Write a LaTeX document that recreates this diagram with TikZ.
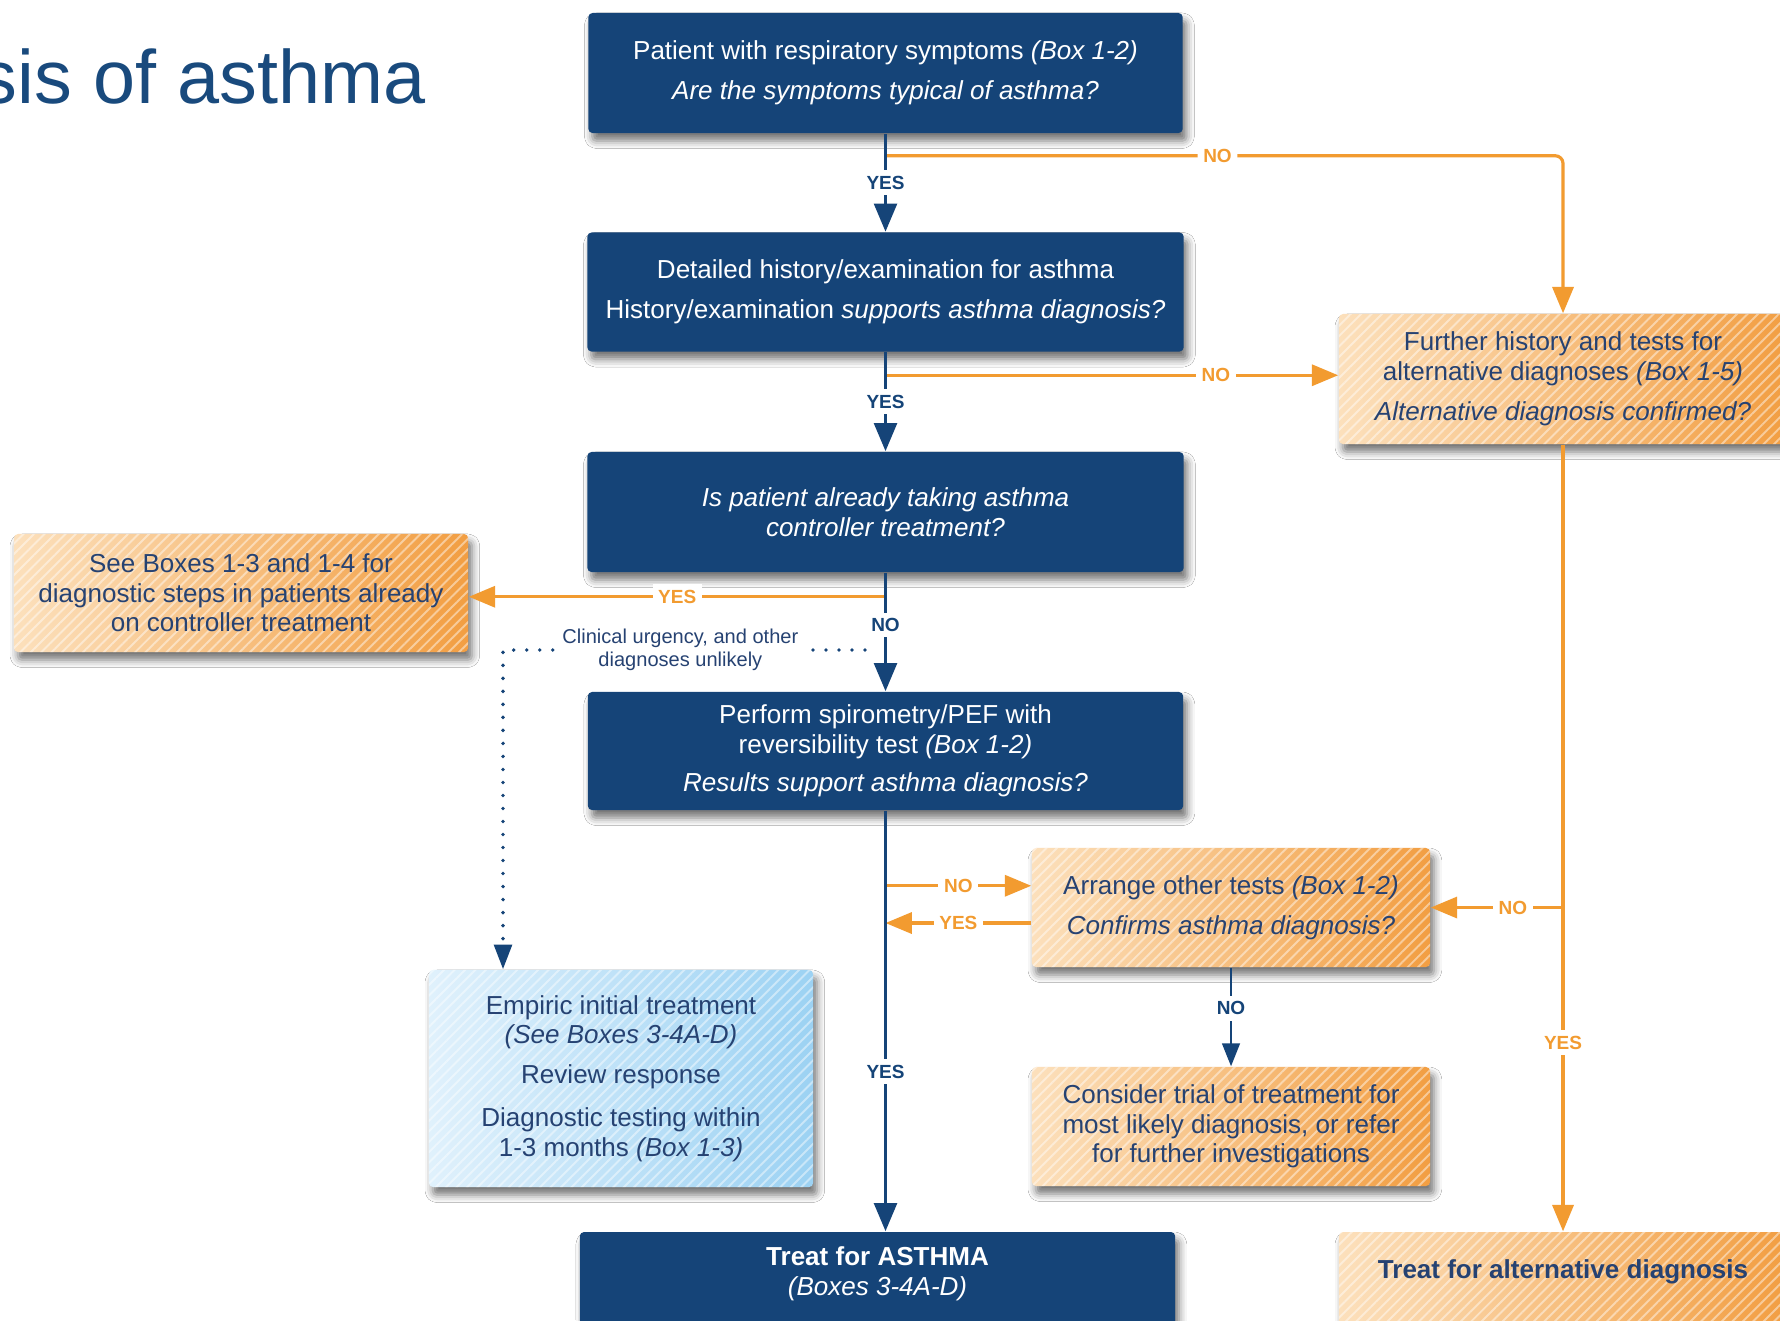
\documentclass[tikz,border=0pt]{standalone}
\usepackage{fontspec}
\setmainfont{Liberation Sans}
\usepackage{xcolor}
\usepackage{tikz}
\usetikzlibrary{arrows.meta,positioning,calc,shadows.blur,patterns.meta}

\definecolor{cNavy}{RGB}{21,68,120}
\definecolor{cNavyText}{RGB}{38,66,114}
\definecolor{cOrange}{RGB}{242,155,48}
\definecolor{cOrgLight}{RGB}{252,224,188}
\definecolor{cOrgDark}{RGB}{242,158,66}
\definecolor{cBluLight}{RGB}{224,241,252}
\definecolor{cBluDark}{RGB}{156,210,243}
\definecolor{cTitle}{RGB}{25,74,125}

\begin{document}
\begin{tikzpicture}[x=0.01cm,y=-0.01cm,
  boxtext/.style={font=\fontsize{7.4}{8.4}\selectfont,align=center,inner sep=0pt},
  boxshadow/.style={blur shadow={shadow xshift=1.1pt,shadow yshift=-2.2pt,shadow blur radius=2.2pt,shadow opacity=55}},
  navynode/.style={boxtext,rounded corners=1.2pt,fill=cNavy,text=white,boxshadow},
  hatchnode/.style={boxtext,rounded corners=1.2pt,text=cNavyText,boxshadow,
    postaction={pattern={Lines[angle=45,distance=2.1pt,line width=0.55pt]},pattern color=white,opacity=0.45}},
  orgnode/.style={hatchnode,left color=cOrgLight,right color=cOrgDark},
  blunode/.style={hatchnode,left color=cBluLight,right color=cBluDark},
  navyflow/.style={draw=cNavy,line width=1.1pt,-{Triangle[length=8pt,width=6.4pt]}},
  navythin/.style={draw=cNavy,line width=0.65pt,-{Triangle[length=6.5pt,width=5pt]}},
  orgflow/.style={draw=cOrange,line width=0.9pt,-{Triangle[length=7.5pt,width=6pt]}},
  dotflow/.style={draw=cNavy,line width=1.1pt,line cap=round,dash pattern=on 0pt off 3.7pt,
    -{Triangle[length=7pt,width=5pt]}},
  flowlbl/.style={font=\bfseries\fontsize{5.4}{6}\selectfont,fill=white,inner sep=1.6pt},
  navylbl/.style={flowlbl,text=cNavy},
  orglbl/.style={flowlbl,text=cOrange},
  urgtext/.style={font=\fontsize{5.7}{6.6}\selectfont,align=center,text=cNavyText,fill=white,inner sep=1.8pt}]
\path[use as bounding box,fill=white] (0,0) rectangle (1780,1320);

% title, cut at the left edge
\node[anchor=base east,font=\fontsize{21.5}{24}\selectfont,text=cTitle,inner sep=0pt] (title) at (426,103) {sis of asthma};

% boxes
\node[navynode,minimum width=5.94cm,minimum height=1.2cm] (sympt) at (885.5,73)
  {Patient with respiratory symptoms \textit{(Box 1-2)}\\[3pt]\textit{Are the symptoms typical of asthma?}};
\node[navynode,minimum width=5.96cm,minimum height=1.19cm] (hist) at (885.5,292)
  {Detailed history/examination for asthma\\[3pt]History/examination \textit{supports asthma diagnosis?}};
\node[orgnode,minimum width=4.48cm,minimum height=1.3cm] (alt) at (1563,379)
  {Further history and tests for\\alternative diagnoses \textit{(Box 1-5)}\\[3pt]\textit{Alternative diagnosis confirmed?}};
\node[navynode,minimum width=5.96cm,minimum height=1.2cm] (ctrl) at (885.5,512)
  {\textit{Is patient already taking asthma}\\\textit{controller treatment?}};
\node[orgnode,minimum width=4.54cm,minimum height=1.18cm] (see) at (241,593)
  {See Boxes 1-3 and 1-4 for\\diagnostic steps in patients already\\on controller treatment};
\node[navynode,minimum width=5.95cm,minimum height=1.18cm] (spiro) at (885.5,751)
  {Perform spirometry/PEF with\\reversibility test \textit{(Box 1-2)}\\[2.6pt]\textit{Results support asthma diagnosis?}};
\node[orgnode,minimum width=3.98cm,minimum height=1.19cm] (other) at (1231,907.5)
  {Arrange other tests \textit{(Box 1-2)}\\[3pt]\textit{Confirms asthma diagnosis?}};
\node[blunode,minimum width=3.84cm,minimum height=2.17cm] (empiric) at (621,1078.5)
  {Empiric initial treatment\\\textit{(See Boxes 3-4A-D)}\\[3pt]Review response\\[3.8pt]Diagnostic testing within\\1-3 months \textit{(Box 1-3)}};
\node[orgnode,minimum width=3.98cm,minimum height=1.19cm] (trial) at (1231,1126.5)
  {Consider trial of treatment for\\most likely diagnosis, or refer\\for further investigations};
\node[navynode,minimum width=5.95cm,minimum height=1.2cm,text depth=12pt] (asthma) at (877.5,1292)
  {\textbf{Treat for ASTHMA}\\\textit{(Boxes 3-4A-D)}};
\node[orgnode,minimum width=4.48cm,minimum height=1.2cm,text depth=13pt] (treatalt) at (1563,1292)
  {\textbf{Treat for alternative diagnosis}};

% points where side branches leave a line
\coordinate (symptno) at ($(sympt.south)+(0,22)$);
\coordinate (histno) at ($(hist.south)+(0,23)$);
\coordinate (ctrlyes) at ($(ctrl.south)+(0,24)$);
\coordinate (spirono) at ($(spiro.south)+(0,75)$);
\coordinate (otheryes) at ($(other.west)+(0,15.5)$);
\coordinate (altno) at (alt.south |- other.east);
\coordinate (urgstart) at (865,650);
\coordinate (urgcorner) at (503,650);

% orange branches
\draw[orgflow,rounded corners=2.2pt] (symptno) -| node[orglbl,pos=0.245] (no1) {NO} (alt.north);
\draw[orgflow] (histno) -- node[orglbl,pos=0.73] (no2) {NO} (histno -| alt.west);
\draw[orgflow] (ctrlyes) -- node[orglbl] (yes3) {YES} (ctrlyes -| see.east);
\draw[orgflow] (spirono) -- node[orglbl] (no5) {NO} (spirono -| other.west);
\draw[orgflow] (otheryes) -- node[orglbl] (yes6) {YES} (otheryes -| spiro.south);
\draw[orgflow] (alt.south) -- node[orglbl,pos=0.76] (yes8) {YES} (alt.south |- treatalt.north);
\draw[orgflow] (altno) -- node[orglbl,pos=0.38] (no8) {NO} (other.east);

% navy main column
\draw[navyflow] (sympt.south) -- node[navylbl] (yes1) {YES} (sympt.south |- hist.north);
\draw[navyflow] (hist.south) -- node[navylbl] (yes2) {YES} (hist.south |- ctrl.north);
\draw[navyflow] (ctrl.south) -- node[navylbl,pos=0.44] (no4) {NO} (ctrl.south |- spiro.north);
\draw[navyflow] (spiro.south) -- node[navylbl,pos=0.62] (yes5) {YES} (spiro.south |- asthma.north);
\draw[navythin] (other.south) -- node[navylbl,pos=0.41] (no7) {NO} (other.south |- trial.north);

% dotted shortcut
\draw[dotflow] (urgstart) -- node[urgtext,pos=0.51] (urg) {Clinical urgency, and other\\diagnoses unlikely} (urgcorner) -- (urgcorner |- empiric.north);
\end{tikzpicture}
\end{document}
